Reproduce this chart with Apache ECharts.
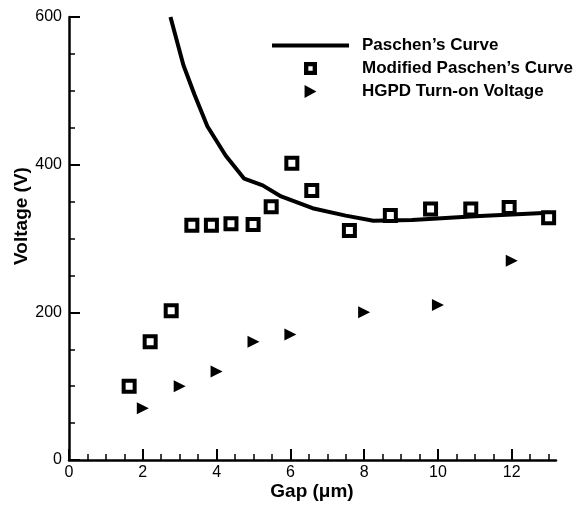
<!DOCTYPE html>
<html>
<head>
<meta charset="utf-8">
<script src="https://cdn.jsdelivr.net/npm/echarts@6/dist/echarts.min.js"></script>
<style>
html,body{margin:0;padding:0;background:#fff;}
#chart{width:577px;height:508px;}
</style>
</head>
<body>
<div id="chart"></div>
<script>
// Paschen's curve (line)
const paschenGap = [2.75, 3.1, 3.4, 3.75, 4.25, 4.75, 5.25, 5.75, 6.6, 7.5, 8.25, 9.3, 11, 13];
const paschenV   = [600, 535, 495, 452, 412, 381, 372, 357, 341, 331, 324, 325, 330, 335];
// Modified Paschen's curve (squares)
const modGap = [1.63, 2.2, 2.77, 3.33, 3.86, 4.39, 4.99, 5.48, 6.04, 6.58, 7.6, 8.71, 9.8, 10.89, 11.93, 13.0];
const modV   = [100, 160, 202, 318, 318, 320, 319, 343, 402, 365, 311, 331, 340, 340, 342, 328];
// HGPD turn-on voltage (triangles)
const hgpdGap = [2, 3, 4, 5, 6, 8, 10, 12];
const hgpdV   = [70, 100, 120, 160, 170, 200, 210, 270];
// ticks
const xMajorTicks = [0, 2, 4, 6, 8, 10, 12];
const xMinorTicks = [0.5, 1, 1.5, 2.5, 3, 3.5, 4.5, 5, 5.5, 6.5, 7, 7.5, 8.5, 9, 9.5, 10.5, 11, 11.5, 12.5, 13];
const seriesNames = ['Paschen\u2019s Curve', 'Modified Paschen\u2019s Curve', 'HGPD Turn-on Voltage'];

const FONT = '"Liberation Sans", Arial, Helvetica, sans-serif';
const chart = echarts.init(document.getElementById('chart'), null, {renderer: 'canvas'});

const zip = (a, b) => a.map((v, i) => [v, b[i]]);

chart.setOption({
  animation: false,
  backgroundColor: '#fff',
  grid: {left: 69, right: 21, top: 17, bottom: 48, containLabel: false},
  xAxis: [{
    type: 'value', min: 0, max: 13.2,
    axisLine: {show: true, onZero: false, lineStyle: {color: '#000', width: 2.5}},
    axisTick: {show: true, inside: true, length: 11, customValues: xMajorTicks, lineStyle: {color: '#000', width: 2}},
    axisLabel: {show: true, customValues: xMajorTicks, margin: 5, color: '#000', fontSize: 16, fontFamily: FONT},
    splitLine: {show: false}
  }, {
    type: 'value', min: 0, max: 13.2, position: 'bottom', gridIndex: 0,
    axisLine: {show: false},
    axisTick: {show: true, inside: true, length: 6, customValues: xMinorTicks, lineStyle: {color: '#000', width: 1.5}},
    axisLabel: {show: false},
    splitLine: {show: false}
  }],
  yAxis: {
    type: 'value', min: 0, max: 600, interval: 200,
    axisLine: {show: true, onZero: false, lineStyle: {color: '#000', width: 2.5}},
    axisTick: {show: true, inside: true, length: 11, lineStyle: {color: '#000', width: 2}},
    minorTick: {show: true, splitNumber: 4, length: 6, lineStyle: {color: '#000', width: 1.5}},
    axisLabel: {margin: 7, color: '#000', fontSize: 16, fontFamily: FONT},
    splitLine: {show: false}
  },
  legend: {
    orient: 'vertical', left: 272, top: 37, padding: 0,
    itemWidth: 77, itemHeight: 13, itemGap: 6,
    symbolKeepAspect: true,
    textStyle: {fontSize: 17, fontWeight: 'bold', color: '#000', fontFamily: FONT, lineHeight: 16, padding: [0, 0, 0, 8]},
    data: [
      {name: seriesNames[0], icon: 'path://M0,0 L77,0 L77,4 L0,4 Z',
       itemStyle: {color: '#000', borderWidth: 0, opacity: 1}},
      {name: seriesNames[1], icon: 'path://M0,0 L12,0 L12,12 L0,12 Z M4,4 L4,8 L8,8 L8,4 Z',
       itemStyle: {color: '#000', borderWidth: 0, opacity: 1}},
      {name: seriesNames[2], icon: 'path://M0,0 L11,6 L0,12 Z',
       itemStyle: {color: '#000', borderWidth: 0, opacity: 1}}
    ]
  },
  graphic: [
    {type: 'text', x: 312, y: 492, style: {text: 'Gap (\u03bcm)', font: 'bold 19px ' + FONT, fill: '#000', textAlign: 'center', textVerticalAlign: 'middle'}},
    {type: 'text', x: 22, y: 216, rotation: Math.PI / 2, style: {text: 'Voltage (V)', font: 'bold 19px ' + FONT, fill: '#000', textAlign: 'center', textVerticalAlign: 'middle'}}
  ],
  series: [
    {
      name: seriesNames[0], type: 'line', xAxisIndex: 0,
      data: zip(paschenGap, paschenV),
      symbol: 'none', showSymbol: false, smooth: false,
      lineStyle: {color: '#000', width: 4},
      itemStyle: {color: '#000'},
      clip: true, z: 2
    },
    {
      name: seriesNames[1], type: 'scatter', xAxisIndex: 0,
      data: zip(modGap, modV),
      symbol: 'rect', symbolSize: 11,
      itemStyle: {color: '#fff', borderColor: '#000', borderWidth: 4, opacity: 1},
      z: 3
    },
    {
      name: seriesNames[2], type: 'scatter', xAxisIndex: 0,
      data: zip(hgpdGap, hgpdV),
      symbol: 'triangle', symbolSize: 12, symbolRotate: -90,
      itemStyle: {color: '#000', opacity: 1},
      z: 3
    }
  ]
});
</script>
</body>
</html>
